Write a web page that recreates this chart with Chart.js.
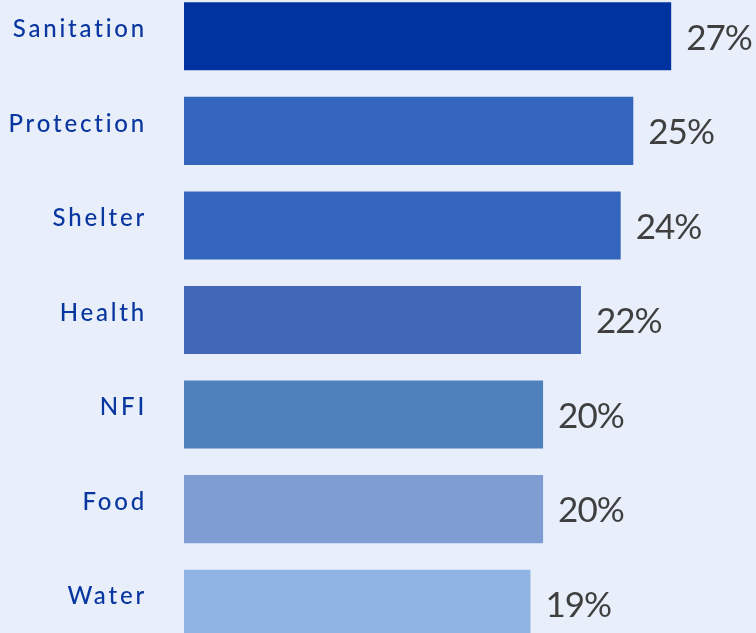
<!DOCTYPE html>
<html>
<head>
<meta charset="utf-8">
<script src="https://cdn.jsdelivr.net/npm/chart.js@4/dist/chart.umd.min.js"></script>
<style>
  html, body { margin: 0; padding: 0; background: #E8EFFB; overflow: hidden; width: 756px; height: 633px; }
  #myChart { position: absolute; left: 0; top: -11px; }
</style>
</head>
<body>
<canvas id="myChart" width="756" height="662"></canvas>
<script>
// sectors and share of respondents (%)
const sectors = ['Sanitation', 'Protection', 'Shelter', 'Health', 'NFI', 'Food', 'Water'];
const shares = [27, 24.9, 24.2, 22, 19.9, 19.9, 19.2];
const barColors = ['#0033A0', '#3465BD', '#3465BD', '#4167B8', '#4F81BD', '#7F9CD3', '#8FB4E3'];

// letter-spaced category labels, value labels after each bar
const labelPlugin = {
    id: 'valueLabels',
    beforeDraw(chart) {
        chart.ctx.letterSpacing = '2.8px';
    },
    beforeDatasetsDraw(chart) {
        chart.ctx.letterSpacing = '0px';
    },
    afterDatasetsDraw(chart) {
        const ctx = chart.ctx;
        const meta = chart.getDatasetMeta(0);
        ctx.save();
        ctx.font = '35px Lato';
        ctx.letterSpacing = '-1px';
        ctx.fillStyle = '#3F3F3F';
        ctx.textAlign = 'left';
        ctx.textBaseline = 'middle';
        meta.data.forEach((bar, i) => {
            ctx.fillText(Math.round(shares[i]) + '%', bar.x + 15, bar.y + 2);
        });
        ctx.restore();
    }
};

new Chart(document.getElementById('myChart'), {
    type: 'bar',
    data: {
        labels: sectors,
        datasets: [{
            data: shares,
            backgroundColor: barColors,
            borderWidth: 0,
            categoryPercentage: 1,
            barPercentage: 0.72
        }]
    },
    options: {
        indexAxis: 'y',
        responsive: false,
        animation: false,
        layout: { padding: 0 },
        plugins: {
            legend: { display: false },
            tooltip: { enabled: false }
        },
        scales: {
            x: {
                display: false,
                min: 0,
                max: 31.7
            },
            y: {
                grid: { display: false, drawTicks: false },
                border: { display: false },
                afterFit(scale) {
                    scale.width = 184;
                    scale.paddingTop = 0;
                    scale.paddingBottom = 0;
                },
                ticks: {
                    color: '#0A36A0',
                    font: { family: 'Lato', size: 24, weight: '500' },
                    padding: 37,
                    labelOffset: -7
                }
            }
        }
    },
    plugins: [labelPlugin]
});
</script>
</body>
</html>
